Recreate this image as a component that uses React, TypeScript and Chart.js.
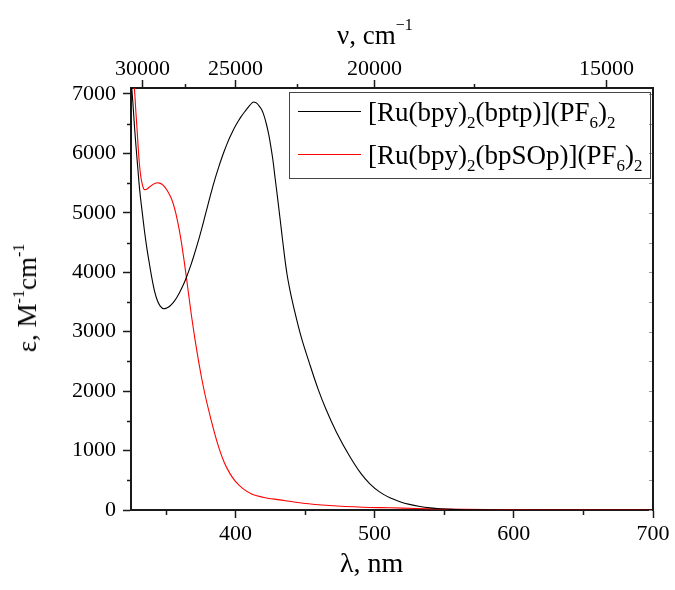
import React, { useEffect, useRef } from "react";
import { Chart, registerables } from "chart.js";

Chart.register(...registerables);

// ---------- data ----------
const bptpWavelength = [
  325, 326.3, 327.5, 328.7, 330, 331.1, 333, 334.7, 336.5, 338.3, 340, 341.9, 344, 346, 348.6,
  350, 352, 354, 356, 358, 360, 362, 364, 366, 368, 370, 372, 374, 376, 378, 380, 382, 384,
  386, 388, 390, 392, 394, 396, 398, 400, 402, 404, 406, 408, 410, 412, 413, 414.5, 416,
  417.4, 419, 420.5, 422.3, 424, 425.5, 427, 428.5, 430.6, 433.1, 435.4, 437.2, 439, 441,
  442.6, 445, 447.4, 453.4, 459.4, 465, 472.6, 482.2, 490, 496.6, 503.8, 511, 518.2, 525,
  532.6, 540, 547, 555, 565, 580, 600, 650, 700,
];
const bptpEpsilon = [
  7250, 6871, 6450, 6087, 5720, 5416, 5020, 4690, 4390, 4131, 3900, 3683, 3520, 3430, 3386,
  3392, 3415, 3455, 3510, 3580, 3665, 3760, 3865, 3990, 4120, 4265, 4420, 4580, 4750, 4930,
  5110, 5290, 5460, 5620, 5770, 5910, 6040, 6160, 6270, 6370, 6460, 6540, 6615, 6680, 6740,
  6800, 6850, 6865, 6858, 6830,
  6787, 6730, 6640, 6490, 6310, 6110, 5880, 5590, 5193, 4700, 4250, 3950, 3720, 3500,
  3340, 3110, 2900, 2453, 2034, 1700, 1310, 900, 620, 440, 300, 205, 140, 95,
  60, 36, 20, 10, 5, 2, 1, 0, 0,
];

const bpSOpWavelength = [
  325, 327.5, 328.5, 329.5, 330.3, 331.1, 332, 333, 334, 335, 336.5, 338, 340, 342, 344, 345.5,
  347, 349, 351, 352.7, 354, 355.5, 357, 358.5, 360, 361.5, 363, 364.7, 366.6, 368.5, 370.9,
  373, 375.5, 378, 381.5, 384.5, 388.1, 392, 395.9, 400, 405.4, 412, 419.8, 431.8, 448.6,
  467.8, 491.8, 511, 530, 550, 580, 620, 660, 700,
];
const bpSOpEpsilon = [
  7400, 7067, 6700, 6350, 6050, 5809, 5620, 5490, 5410, 5390, 5400, 5430, 5465, 5492, 5505,
  5500, 5485, 5440, 5375, 5305, 5240, 5140, 5010, 4850, 4670, 4460, 4220, 3930, 3590, 3260,
  2880, 2580, 2250, 1960, 1614, 1340, 1050, 800, 620, 480, 360, 265, 215, 171, 114, 75, 47,
  37, 25, 15, 8, 4, 2, 1,
];

const bottomMajorTicks = [400, 500, 600, 700];
const bottomMinorTicks = [350, 450, 550, 650];
const topMajorWavenumbers = [30000, 25000, 20000, 15000];
const topMinorWavenumbers = [27500, 22500, 17500];
const leftMajorTicks = [0, 1000, 2000, 3000, 4000, 5000, 6000, 7000];
const leftMinorTicks = [500, 1500, 2500, 3500, 4500, 5500, 6500];

const X_MIN = 325;
const X_MAX = 700;
const Y_MIN = 0;
const Y_MAX = 7100;

const SERIF = "'Liberation Serif', 'Times New Roman', serif";
const AXIS = "#1a1a1a";

const minorTicksPlugin = {
  id: "minorTicksFrame",
  afterDraw(chart: any) {
    const { ctx, chartArea: a } = chart;
    const x = chart.scales.x;
    const xt = chart.scales.xTop;
    const y = chart.scales.y;
    ctx.save();
    ctx.strokeStyle = AXIS;
    ctx.lineWidth = 1.5;
    ctx.beginPath();
    bottomMinorTicks.forEach((v) => {
      const p = Math.round(x.getPixelForValue(v)) + 0.5;
      ctx.moveTo(p, a.bottom);
      ctx.lineTo(p, a.bottom + 5);
    });
    topMinorWavenumbers.forEach((w) => {
      const p = Math.round(xt.getPixelForValue(1e7 / w)) + 0.5;
      ctx.moveTo(p, a.top);
      ctx.lineTo(p, a.top - 4);
    });
    leftMinorTicks.forEach((v) => {
      const p = Math.round(y.getPixelForValue(v)) + 0.5;
      ctx.moveTo(a.left, p);
      ctx.lineTo(a.left - 4, p);
    });
    ctx.stroke();
    // right frame
    ctx.lineWidth = 2;
    ctx.beginPath();
    ctx.moveTo(a.right, a.top - 1);
    ctx.lineTo(a.right, a.bottom + 1);
    ctx.stroke();
    // inward right ticks
    ctx.strokeStyle = "#9a9a9a";
    ctx.lineWidth = 1;
    ctx.beginPath();
    [...leftMajorTicks, ...leftMinorTicks].forEach((v) => {
      const p = Math.round(y.getPixelForValue(v)) + 0.5;
      ctx.moveTo(a.right - 1, p);
      ctx.lineTo(a.right - 4, p);
    });
    ctx.stroke();
    ctx.restore();
  },
};

export default function App() {
  const canvasRef = useRef<HTMLCanvasElement | null>(null);

  useEffect(() => {
    if (!canvasRef.current) return;
    const tickFont = { family: SERIF, size: 22, lineHeight: 1 };
    const grid = {
      drawOnChartArea: false,
      drawTicks: true,
      tickLength: 8,
      tickWidth: 1.5,
      tickColor: AXIS,
      color: AXIS,
    };
    const border = { display: true, width: 2, color: AXIS };
    const chart = new Chart(canvasRef.current, {
      type: "line",
      data: {
        datasets: [
          {
            label: "[Ru(bpy)2(bptp)](PF6)2",
            data: bptpWavelength.map((w, i) => ({ x: w, y: bptpEpsilon[i] })),
            borderColor: "#000000",
            borderWidth: 1.1,
            pointRadius: 0,
            cubicInterpolationMode: "monotone",
            fill: false,
          },
          {
            label: "[Ru(bpy)2(bpSOp)](PF6)2",
            data: bpSOpWavelength.map((w, i) => ({ x: w, y: bpSOpEpsilon[i] })),
            borderColor: "#ff0000",
            borderWidth: 1.1,
            pointRadius: 0,
            cubicInterpolationMode: "monotone",
            fill: false,
          },
        ],
      },
      options: {
        animation: false,
        responsive: false,
        maintainAspectRatio: false,
        layout: { padding: { left: 0, right: 22, top: 0, bottom: 0 } },
        plugins: { legend: { display: false }, tooltip: { enabled: false }, title: { display: false } },
        scales: {
          x: {
            type: "linear",
            position: "bottom",
            min: X_MIN,
            max: X_MAX,
            grid,
            border,
            afterBuildTicks: (s: any) => {
              s.ticks = bottomMajorTicks.map((v) => ({ value: v }));
            },
            afterFit: (s: any) => {
              s.height = 80;
            },
            ticks: {
              font: tickFont,
              color: "#000",
              padding: 5,
              autoSkip: false,
              maxRotation: 0,
              callback: (v: any) => String(v),
            },
          },
          xTop: {
            type: "linear",
            position: "top",
            min: X_MIN,
            max: X_MAX,
            grid,
            border,
            afterBuildTicks: (s: any) => {
              s.ticks = topMajorWavenumbers.map((w) => ({ value: 1e7 / w }));
            },
            afterFit: (s: any) => {
              s.height = 88;
            },
            ticks: {
              font: tickFont,
              color: "#000",
              padding: 0,
              autoSkip: false,
              maxRotation: 0,
              callback: (v: any) => String(Math.round(1e7 / Number(v))),
            },
          },
          y: {
            type: "linear",
            position: "left",
            min: Y_MIN,
            max: Y_MAX,
            grid,
            border,
            afterBuildTicks: (s: any) => {
              s.ticks = leftMajorTicks.map((v) => ({ value: v }));
            },
            afterFit: (s: any) => {
              s.width = 131;
            },
            ticks: {
              font: tickFont,
              color: "#000",
              padding: 7,
              autoSkip: false,
              callback: (v: any) => String(v),
            },
          },
        },
      },
      plugins: [minorTicksPlugin],
    } as any);
    return () => chart.destroy();
  }, []);

  const text: React.CSSProperties = {
    position: "absolute",
    fontFamily: SERIF,
    color: "#000",
    whiteSpace: "nowrap",
    lineHeight: "24px",
  };
  const sub: React.CSSProperties = { fontSize: "17px", position: "relative", top: "7px", verticalAlign: "baseline" };

  return (
    <div style={{ position: "absolute", left: 0, top: 0, width: 675, height: 590, background: "#fff" }}>
      <canvas ref={canvasRef} width={675} height={590} style={{ display: "block", width: 675, height: 590 }} />
      {/* top axis title */}
      <div style={{ ...text, left: 337, top: 23, fontSize: "27px" }}>
        ν, cm<span style={{ fontSize: "16px", position: "relative", top: "-14px" }}>−1</span>
      </div>
      {/* bottom axis title */}
      <div style={{ ...text, left: 340, top: 551, fontSize: "28px" }}>λ, nm</div>
      {/* left axis title */}
      <div
        style={{
          ...text,
          left: 29,
          top: 298,
          fontSize: "27px",
          transform: "translate(-50%, -50%) rotate(-90deg)",
        }}
      >
        ε, M<span style={{ fontSize: "16px", position: "relative", top: "-12px" }}>-1</span>cm
        <span style={{ fontSize: "16px", position: "relative", top: "-12px" }}>-1</span>
      </div>
      {/* legend */}
      <div
        style={{
          position: "absolute",
          left: 289,
          top: 92,
          width: 362,
          height: 87,
          border: "1px solid #444",
          boxSizing: "border-box",
        }}
      />
      <div style={{ position: "absolute", left: 298, top: 111, width: 63, height: 1, background: "#000" }} />
      <div style={{ position: "absolute", left: 298, top: 154, width: 63, height: 1, background: "#ff0000" }} />
      <div style={{ ...text, left: 368, top: 100, fontSize: "27px" }}>
        [Ru(bpy)<span style={sub}>2</span>(bptp)](PF<span style={sub}>6</span>)<span style={sub}>2</span>
      </div>
      <div style={{ ...text, left: 368, top: 143, fontSize: "27px" }}>
        [Ru(bpy)<span style={sub}>2</span>(bpSOp)](PF<span style={sub}>6</span>)<span style={sub}>2</span>
      </div>
    </div>
  );
}
